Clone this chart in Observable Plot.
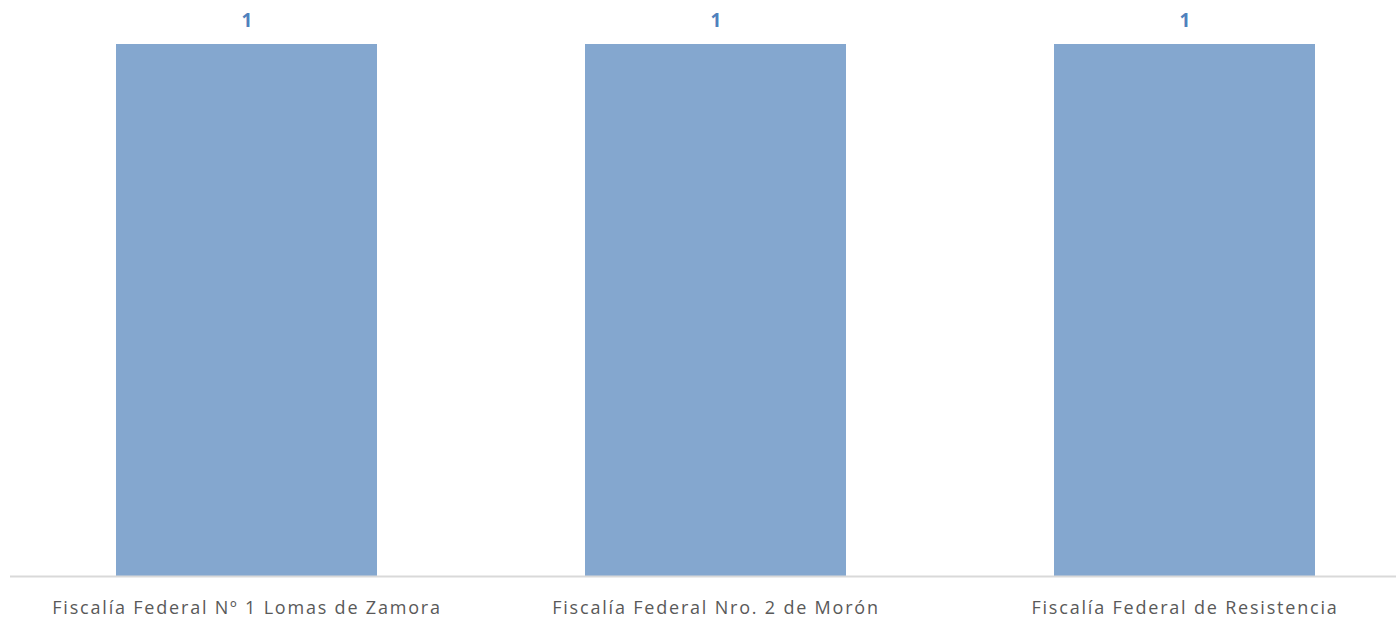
<!DOCTYPE html>
<html>
<head>
<meta charset="utf-8">
<script src="https://cdn.jsdelivr.net/npm/d3@7"></script>
<script src="https://cdn.jsdelivr.net/npm/@observablehq/plot@0.6"></script>
<style>
  html, body { margin: 0; padding: 0; background: #fff; }
  #chart svg { display: block; }
  #chart svg g[aria-label="x-axis tick label"] text { letter-spacing: 1.8px; }
</style>
</head>
<body>
<div id="chart"></div>
<script>
const categories = [
  "Fiscalía Federal Nº 1 Lomas de Zamora",
  "Fiscalía Federal Nro. 2 de Morón",
  "Fiscalía Federal de Resistencia"
];
const values = [1, 1, 1];

const data = categories.map((c, i) => ({category: c, value: values[i]}));

const chart = Plot.plot({
  width: 1396,
  height: 619,
  marginLeft: 10,
  marginRight: 0,
  marginTop: 44,
  marginBottom: 43,
  style: {fontFamily: "'Open Sans', sans-serif", background: "#fff"},
  x: {domain: categories, range: [11, 1419], padding: 0, label: null},
  y: {domain: [0, 1], axis: null},
  marks: [
    Plot.barY(data, {x: "category", y: "value", fill: "#84A7CF", insetLeft: 104, insetRight: 104}),
    Plot.ruleY([0], {stroke: "#D9D9D9", strokeWidth: 2}),
    Plot.text(data, {x: "category", y: "value", text: d => String(d.value), dy: -24, fill: "#4F81BD", fontWeight: "bold", fontSize: 19}),
    Plot.axisX({tickSize: 0, tickPadding: 25, fontSize: 18, color: "#595959", label: null})
  ]
});
document.getElementById("chart").appendChild(chart);
</script>
</body>
</html>
